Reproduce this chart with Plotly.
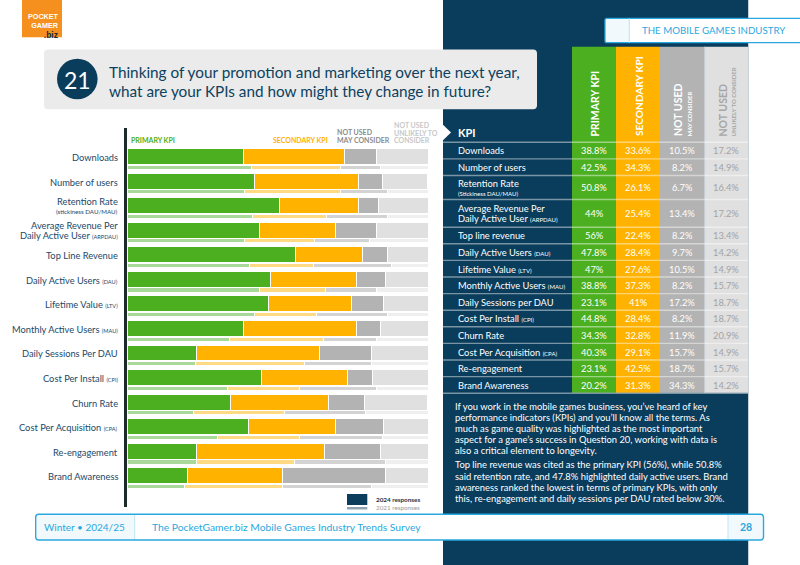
import re
import plotly.graph_objects as go

W, H = 800, 565
FONT = "Lato"
NAVY = "#0a3d5c"
GREEN = "#4caf20"
ORANGE = "#ffb300"
GREY = "#b3b3b3"
LIGHT = "#e0e0e0"
CYAN = "#29a8df"

# ---------------- data ----------------
chart_labels = [
    "Downloads",
    "Number of users",
    "Retention Rate\n(stickiness DAU/MAU)",
    "Average Revenue Per\nDaily Active User (ARPDAU)",
    "Top Line Revenue",
    "Daily Active Users (DAU)",
    "Lifetime Value (LTV)",
    "Monthly Active Users (MAU)",
    "Daily Sessions Per DAU",
    "Cost Per Install (CPI)",
    "Churn Rate",
    "Cost Per Acquisition (CPA)",
    "Re-engagement",
    "Brand Awareness",
]
table_labels = [
    "Downloads",
    "Number of users",
    "Retention Rate\n(Stickiness DAU/MAU)",
    "Average Revenue Per\nDaily Active User (ARPDAU)",
    "Top line revenue",
    "Daily Active Users (DAU)",
    "Lifetime Value (LTV)",
    "Monthly Active Users (MAU)",
    "Daily Sessions per DAU",
    "Cost Per Install (CPI)",
    "Churn Rate",
    "Cost Per Acquisition (CPA)",
    "Re-engagement",
    "Brand Awareness",
]
primary_2024 = [38.8, 42.5, 50.8, 44, 56, 47.8, 47, 38.8, 23.1, 44.8, 34.3, 40.3, 23.1, 20.2]
secondary_2024 = [33.6, 34.3, 26.1, 25.4, 22.4, 28.4, 27.6, 37.3, 41, 28.4, 32.8, 29.1, 42.5, 31.3]
may_2024 = [10.5, 8.2, 6.7, 13.4, 8.2, 9.7, 10.5, 8.2, 17.2, 8.2, 11.9, 15.7, 18.7, 34.3]
unlikely_2024 = [17.2, 14.9, 16.4, 17.2, 13.4, 14.2, 14.9, 15.7, 18.7, 18.7, 20.9, 14.9, 15.7, 14.2]

primary_2021 = [41.2, 38.9, 41.8, 38.9, 40.6, 43.9, 42.2, 33.9, 22.6, 33.3, 22.0, 29.9, 23.2, 19.2]
secondary_2021 = [29.6, 31.9, 24.4, 23.4, 21.2, 22.0, 20.7, 31.4, 36.3, 23.9, 30.2, 27.3, 32.3, 32.4]
may_2021 = [13.3, 15.9, 20.5, 18.4, 26.2, 16.9, 23.8, 17.5, 22.3, 25.6, 27.2, 27.8, 30.3, 29.6]
unlikely_2021 = [15.9, 13.3, 13.3, 19.3, 12.0, 17.2, 13.3, 17.2, 18.8, 17.2, 20.6, 15.0, 14.2, 18.8]

series_names = ["Primary KPI", "Secondary KPI", "Not used – may consider", "Not used – unlikely to consider"]
colors_2024 = [GREEN, ORANGE, GREY, LIGHT]
colors_2021 = ["#a9d99a", "#ffda85", "#d3d3d3", "#efefef"]
value_colors = ["white", "white", "white", "#a3a3a3"]

paragraph_1 = [
    "If you work in the mobile games business, you’ve heard of key",
    "performance indicators (KPIs) and you’ll know all the terms. As",
    "much as game quality was highlighted as the most important",
    "aspect for a game’s success in Question 20, working with data is",
    "also a critical element to longevity.",
]
paragraph_2 = [
    "Top line revenue was cited as the primary KPI (56%), while 50.8%",
    "said retention rate, and 47.8% highlighted daily active users. Brand",
    "awareness ranked the lowest in terms of primary KPIs, with only",
    "this, re-engagement and daily sessions per DAU rated below 30%.",
]


# ---------------- helpers ----------------
def X(px):
    return px / W


def Y(py):
    return 1 - py / H


def small(text, size):
    return re.sub(r"(\([^)]*\))", lambda m: f"<span style='font-size:{size}px'>{m.group(1)}</span>", text)


shapes = []
annotations = []


def rect(x0, y0, x1, y1, fill, line=None, lw=0):
    shapes.append(dict(type="rect", xref="paper", yref="paper", x0=X(x0), x1=X(x1), y0=Y(y1), y1=Y(y0),
                       fillcolor=fill, line=dict(color=line or "rgba(0,0,0,0)", width=lw), layer="above"))


def rrect(x0, y0, x1, y1, r, fill, line=None, lw=0):
    p = (f"M {X(x0 + r)},{Y(y0)} L {X(x1 - r)},{Y(y0)} Q {X(x1)},{Y(y0)} {X(x1)},{Y(y0 + r)} "
         f"L {X(x1)},{Y(y1 - r)} Q {X(x1)},{Y(y1)} {X(x1 - r)},{Y(y1)} L {X(x0 + r)},{Y(y1)} "
         f"Q {X(x0)},{Y(y1)} {X(x0)},{Y(y1 - r)} L {X(x0)},{Y(y0 + r)} Q {X(x0)},{Y(y0)} {X(x0 + r)},{Y(y0)} Z")
    shapes.append(dict(type="path", xref="paper", yref="paper", path=p, fillcolor=fill,
                       line=dict(color=line or "rgba(0,0,0,0)", width=lw), layer="above"))


def hline(x0, x1, y, color, lw):
    shapes.append(dict(type="line", xref="paper", yref="paper", x0=X(x0), x1=X(x1), y0=Y(y), y1=Y(y),
                       line=dict(color=color, width=lw), layer="above"))


def vline(x, y0, y1, color, lw):
    shapes.append(dict(type="line", xref="paper", yref="paper", x0=X(x), x1=X(x), y0=Y(y0), y1=Y(y1),
                       line=dict(color=color, width=lw), layer="above"))


def ann(text, x, y, size, color, xanchor="left", yanchor="middle", bold=False, angle=0, family=FONT,
        yref="paper", yshift=0, align="left"):
    if bold:
        text = f"<b>{text}</b>"
    annotations.append(dict(text=text, x=X(x), y=(Y(y) if yref == "paper" else y), xref="paper", yref=yref,
                            xanchor=xanchor, yanchor=yanchor, showarrow=False, textangle=angle, align=align,
                            font=dict(family=family, size=size, color=color), borderpad=0, yshift=yshift))


# ---------------- background panels ----------------
rect(443, 0, 748, 565, NAVY)
vline(748.5, 0, 565, "#c8d2d9", 1)

# logo
rect(22, 0, 62, 37.3, "#f5901e")
ann("<b>POCKET</b><br><b>GAMER</b><br><b><span style='color:#10283a;font-size:8.5px'>.biz</span></b>", 59.5, 26.3, 7.2,
    "white", xanchor="right", family="Liberation Sans Narrow, Arial Narrow, sans-serif", align="right")

# title box
rrect(44, 49.5, 537, 109.3, 4, "#ebebeb")
shapes.append(dict(type="circle", xref="paper", yref="paper", x0=X(57), x1=X(97.6), y0=Y(99.3), y1=Y(58.7),
                   fillcolor=NAVY, line=dict(width=0), layer="above"))
ann("21", 77.3, 79.5, 23, "white", xanchor="center")
ann("Thinking of your promotion and marketing over the next year,", 107.5, 72, 15.3, "#0c4160")
ann("what are your KPIs and how might they change in future?", 107.5, 90.5, 15.3, "#0c4160")

# section tab
rrect(605, 18.3, 812, 42.7, 2, "white", CYAN, 1.3)
rect(606, 19, 629, 42, "#f2f9fd")
vline(629.3, 18.3, 42.7, "#bfe3f4", 1)
ann("THE MOBILE GAMES INDUSTRY", 641, 30, 9.7, CYAN)

# ---------------- table ----------------
col_x = [572, 616, 660, 704.7, 748]
table_top = 142.3
for c in range(4):
    rect(col_x[c], 46.7, col_x[c + 1], 392.7, colors_2024[c])
vline(704.7, 46.7, 392.7, "#cfd6db", 1)

# header texts
ann("PRIMARY KPI", 594, 137.5, 10.5, "white", xanchor="center", yanchor="bottom", bold=True, angle=-90)
ann("SECONDARY KPI", 638.5, 137.5, 10.2, "white", xanchor="center", yanchor="bottom", bold=True, angle=-90)
ann("NOT USED", 677.5, 137.5, 10.5, "white", xanchor="center", yanchor="bottom", bold=True, angle=-90)
ann("MAY CONSIDER", 688.5, 137.5, 6, "white", xanchor="center", yanchor="bottom", bold=True, angle=-90)
ann("NOT USED", 722, 137.5, 10.5, "#a6a6a6", xanchor="center", yanchor="bottom", bold=True, angle=-90)
ann("UNLIKELY TO CONSIDER", 732.5, 137.5, 6, "#a6a6a6", xanchor="center", yanchor="bottom", bold=True, angle=-90)

shapes.append(dict(type="path", xref="paper", yref="paper",
                   path=f"M {X(443)},{Y(124.8)} L {X(451)},{Y(132.5)} L {X(443)},{Y(140.2)} Z",
                   fillcolor="white", line=dict(width=0), layer="above"))
ann("KPI", 457, 132, 11, "white", bold=True)

table_series = [primary_2024, secondary_2024, may_2024, unlikely_2024]
y_cur = table_top
hline(443, 748, y_cur, "rgba(255,255,255,0.45)", 1.4)
for i, lab in enumerate(table_labels):
    lines = lab.split("\n")
    if len(lines) == 1:
        h = 16.6
    elif lines[1].startswith("("):
        h = 24
    else:
        h = 27.7
    yc = y_cur + h / 2
    if len(lines) == 1:
        ann(small(lines[0], 6), 457, yc + 0.3, 9.3, "white")
    elif lines[1].startswith("("):
        ann(lines[0], 457, yc - 4.2, 9.3, "white")
        ann(f"<span style='font-size:6px'>{lines[1]}</span>", 457, yc + 6, 9.3, "white")
    else:
        ann(lines[0], 457, yc - 5.3, 9.3, "white")
        ann(small(lines[1], 6), 457, yc + 5.3, 9.3, "white")
    for c in range(4):
        ann(f"{table_series[c][i]:g}%", (col_x[c] + col_x[c + 1]) / 2, yc + 0.3, 9.3, value_colors[c], xanchor="center")
    y_cur += h
    hline(443, 748, y_cur, "rgba(255,255,255,0.45)", 1.4)

# paragraph text
for k, line in enumerate(paragraph_1):
    ann(line, 454, 406 + k * 11.1, 9.4, "white")
for k, line in enumerate(paragraph_2):
    ann(line, 454, 465 + k * 11.05, 9.4, "white")

# ---------------- left chart legend / labels ----------------
ann("PRIMARY KPI", 130, 140, 7, GREEN, bold=True)
ann("SECONDARY KPI", 328.5, 140, 7, ORANGE, xanchor="right", bold=True)
ann("NOT USED", 336, 131.7, 7, "#8c8c8c", bold=True)
ann("MAY CONSIDER", 336, 140, 7, "#8c8c8c", bold=True)
ann("NOT USED", 392.5, 125.3, 7, "#c8c8c8", bold=True)
ann("UNLIKELY TO", 392.5, 132.7, 7, "#c8c8c8", bold=True)
ann("CONSIDER", 392.5, 140, 7, "#c8c8c8", bold=True)

LABEL = "#1b4868"
for i, lab in enumerate(chart_labels):
    lines = lab.split("\n")
    if len(lines) == 1:
        ann(small(lines[0], 5.6), 118.5, i, 9.3, LABEL, xanchor="right", yref="y", yshift=-1)
    else:
        first, second = lines
        sz2 = f"<span style='font-size:6.2px'>{second}</span>" if second.startswith("(") else small(second, 5.6)
        ann(first, 118.5, i, 9.3, LABEL, xanchor="right", yref="y", yshift=4.6)
        ann(sz2, 118.5, i, 9.3, LABEL, xanchor="right", yref="y", yshift=-5.8)

# bottom legend
rect(347, 494, 367.3, 505, NAVY)
rect(347, 507, 367.3, 509.5, "#8ea3b3")
ann("2024 responses", 375, 499.5, 6.3, "#1e3447", bold=True)
ann("2021 responses", 375, 507.8, 6.3, "#9a9a9a")

# ---------------- footer ----------------
rrect(35.7, 514.3, 763.5, 540, 3, "white")
rect(37, 515.3, 134.7, 539, "#f2f9fd")
rect(728, 515.3, 762.5, 539, "#f2f9fd")
vline(134.7, 514.3, 540, "#bfe3f4", 1)
vline(728, 514.3, 540, "#bfe3f4", 1)
rrect(35.7, 514.3, 763.5, 540, 3, "rgba(0,0,0,0)", CYAN, 1.4)
ann("Winter • 2024/25", 84.5, 527.3, 10, CYAN, xanchor="center")
ann("The PocketGamer.biz Mobile Games Industry Trends Survey", 151, 527.3, 10.3, CYAN)
ann("28", 746, 527.3, 10.5, CYAN, xanchor="center", bold=True)

# ---------------- bars ----------------
fig = go.Figure()
n = len(chart_labels)
y_thick = list(range(n))
y_thin = [i + 0.436 for i in range(n)]
for vals, col, name in zip([primary_2024, secondary_2024, may_2024, unlikely_2024], colors_2024, series_names):
    fig.add_trace(go.Bar(x=vals, y=y_thick, orientation="h", width=0.65, name=f"{name} 2024",
                         marker=dict(color=col, line=dict(color="white", width=1)), hoverinfo="skip"))
for vals, col, name in zip([primary_2021, secondary_2021, may_2021, unlikely_2021], colors_2021, series_names):
    fig.add_trace(go.Bar(x=vals, y=y_thin, orientation="h", width=0.17, name=f"{name} 2021",
                         marker=dict(color=col, line=dict(color="white", width=1)), hoverinfo="skip"))

fig.update_layout(
    width=W, height=H, margin=dict(l=0, r=0, t=0, b=0),
    paper_bgcolor="white", plot_bgcolor="rgba(0,0,0,0)",
    barmode="stack", showlegend=False,
    xaxis=dict(domain=[127 / W, 428 / W], range=[0, 100], visible=False, fixedrange=True),
    yaxis=dict(domain=[1 - 507 / H, 1 - 128 / H], range=[14.27, -1.16], showline=True, linecolor="#1c2a2a",
               linewidth=2.5, showticklabels=False, showgrid=False, zeroline=False, ticks="", fixedrange=True),
    shapes=shapes, annotations=annotations,
    font=dict(family=FONT),
)

fig.write_html("out.html")
